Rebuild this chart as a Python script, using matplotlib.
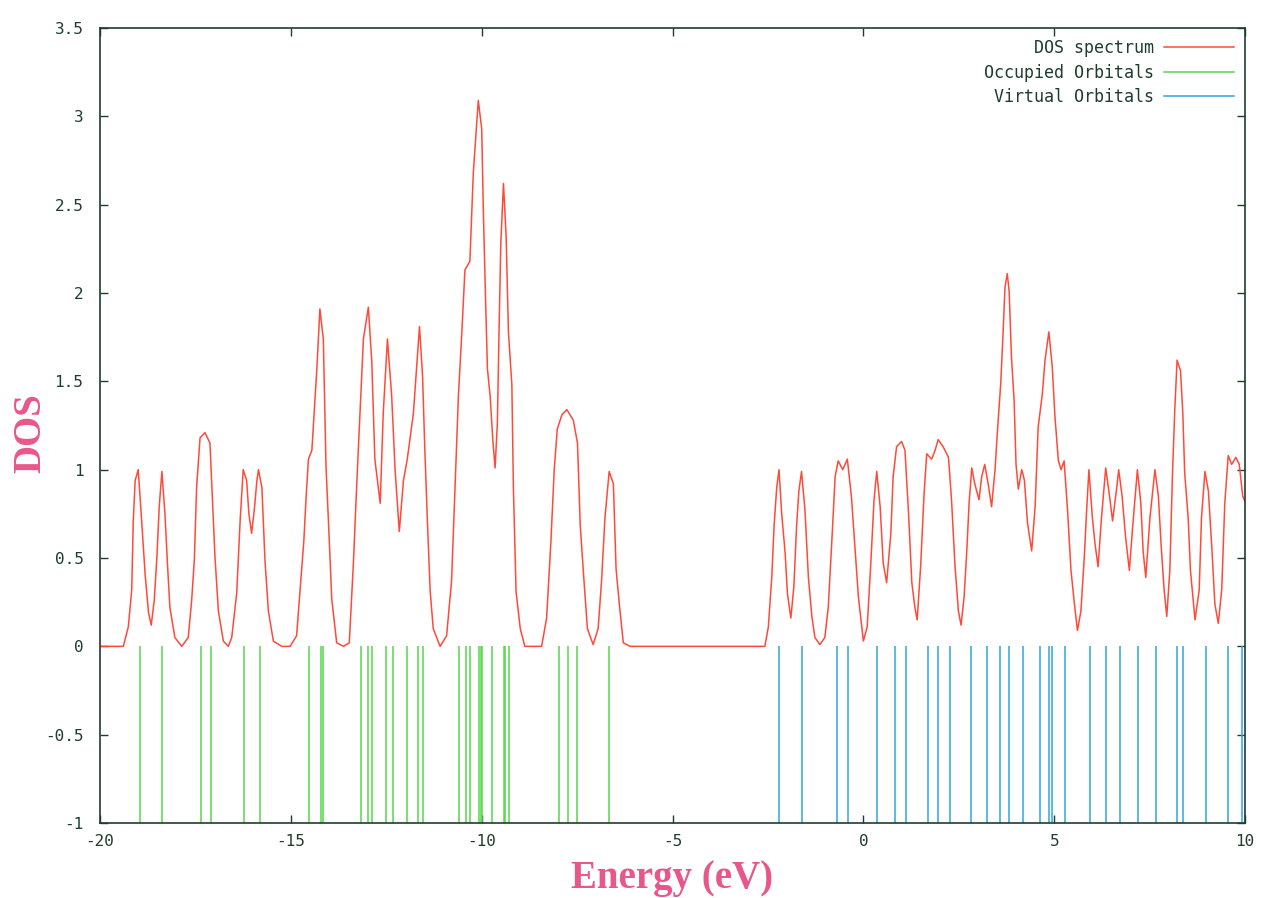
import matplotlib
matplotlib.use("Agg")
import matplotlib.pyplot as plt
from matplotlib.lines import Line2D

# DOS curve (energy in eV, DOS)
dos_energy = [
    -20.00, -19.39, -19.26, -19.17, -19.13, -19.08, -19.00, -18.91, -18.82, -18.73,
    -18.66, -18.58, -18.51, -18.45, -18.38, -18.30, -18.23, -18.17, -18.04, -17.86,
    -17.69, -17.60, -17.53, -17.47, -17.38, -17.25, -17.12, -17.07, -16.99, -16.90,
    -16.77, -16.64, -16.55, -16.42, -16.33, -16.25, -16.16, -16.10, -16.03, -15.96,
    -15.89, -15.85, -15.76, -15.68, -15.59, -15.46, -15.24, -15.02, -14.85, -14.72,
    -14.66, -14.60, -14.54, -14.45, -14.39, -14.32, -14.24, -14.15, -14.08, -13.99,
    -13.93, -13.80, -13.62, -13.47, -13.36, -13.27, -13.19, -13.10, -12.97, -12.88,
    -12.80, -12.66, -12.58, -12.47, -12.36, -12.27, -12.16, -12.05, -11.95, -11.79,
    -11.63, -11.55, -11.49, -11.42, -11.35, -11.27, -11.09, -10.92, -10.79, -10.70,
    -10.61, -10.52, -10.44, -10.31, -10.22, -10.09, -10.00, -9.96, -9.90, -9.85,
    -9.78, -9.71, -9.65, -9.59, -9.55, -9.50, -9.43, -9.36, -9.30, -9.21,
    -9.17, -9.10, -8.99, -8.87, -8.43, -8.30, -8.19, -8.10, -8.02, -7.90,
    -7.77, -7.60, -7.49, -7.42, -7.32, -7.23, -7.08, -6.95, -6.86, -6.77,
    -6.66, -6.55, -6.48, -6.39, -6.29, -6.11, -2.58, -2.49, -2.40, -2.34,
    -2.27, -2.21, -2.14, -2.05, -1.99, -1.90, -1.82, -1.75, -1.69, -1.62,
    -1.53, -1.44, -1.35, -1.27, -1.14, -1.01, -0.92, -0.83, -0.74, -0.66,
    -0.54, -0.42, -0.31, -0.22, -0.13, 0.00, 0.10, 0.19, 0.28, 0.35,
    0.44, 0.52, 0.61, 0.72, 0.78, 0.87, 1.00, 1.09, 1.18, 1.27,
    1.35, 1.41, 1.50, 1.59, 1.66, 1.79, 1.88, 1.96, 2.09, 2.23,
    2.31, 2.40, 2.49, 2.56, 2.64, 2.71, 2.77, 2.84, 2.92, 3.03,
    3.10, 3.18, 3.27, 3.36, 3.45, 3.52, 3.60, 3.66, 3.71, 3.77,
    3.82, 3.88, 3.95, 4.00, 4.06, 4.15, 4.22, 4.30, 4.41, 4.50,
    4.58, 4.69, 4.76, 4.86, 4.95, 5.02, 5.11, 5.18, 5.26, 5.35,
    5.44, 5.53, 5.61, 5.70, 5.79, 5.85, 5.91, 6.00, 6.07, 6.15,
    6.24, 6.35, 6.45, 6.53, 6.64, 6.69, 6.78, 6.87, 6.97, 7.05,
    7.18, 7.27, 7.33, 7.40, 7.51, 7.64, 7.73, 7.80, 7.88, 7.95,
    8.03, 8.10, 8.16, 8.22, 8.31, 8.37, 8.42, 8.51, 8.57, 8.69,
    8.80, 8.86, 8.95, 9.04, 9.13, 9.21, 9.30, 9.39, 9.47, 9.56,
    9.65, 9.76, 9.85, 9.94, 10.00,
]
dos_value = [
    0.00, 0.00, 0.11, 0.32, 0.71, 0.94, 1.00, 0.71, 0.41, 0.19,
    0.12, 0.26, 0.51, 0.79, 0.99, 0.75, 0.45, 0.22, 0.05, 0.00,
    0.05, 0.26, 0.49, 0.90, 1.18, 1.21, 1.15, 0.90, 0.51, 0.20,
    0.03, 0.00, 0.05, 0.30, 0.71, 1.00, 0.94, 0.75, 0.64, 0.77,
    0.94, 1.00, 0.90, 0.49, 0.20, 0.03, 0.00, 0.00, 0.06, 0.43,
    0.60, 0.85, 1.06, 1.11, 1.32, 1.57, 1.91, 1.74, 1.02, 0.58,
    0.27, 0.02, 0.00, 0.02, 0.48, 0.94, 1.32, 1.74, 1.92, 1.61,
    1.06, 0.81, 1.32, 1.74, 1.42, 1.00, 0.65, 0.94, 1.06, 1.32,
    1.81, 1.53, 1.11, 0.69, 0.31, 0.10, 0.00, 0.06, 0.37, 0.90,
    1.42, 1.78, 2.13, 2.18, 2.68, 3.09, 2.93, 2.49, 1.97, 1.57,
    1.42, 1.17, 1.01, 1.26, 1.74, 2.28, 2.62, 2.32, 1.78, 1.48,
    0.90, 0.31, 0.10, 0.00, 0.00, 0.16, 0.58, 1.00, 1.23, 1.31,
    1.34, 1.28, 1.15, 0.69, 0.37, 0.10, 0.01, 0.10, 0.37, 0.73,
    0.99, 0.92, 0.44, 0.23, 0.02, 0.00, 0.00, 0.11, 0.39, 0.68,
    0.90, 1.00, 0.75, 0.53, 0.30, 0.16, 0.34, 0.68, 0.88, 0.99,
    0.77, 0.39, 0.17, 0.05, 0.01, 0.05, 0.22, 0.58, 0.96, 1.05,
    1.00, 1.06, 0.84, 0.56, 0.28, 0.03, 0.11, 0.45, 0.83, 0.99,
    0.79, 0.47, 0.36, 0.64, 0.96, 1.13, 1.16, 1.11, 0.77, 0.36,
    0.22, 0.15, 0.45, 0.86, 1.09, 1.06, 1.11, 1.17, 1.13, 1.07,
    0.83, 0.46, 0.20, 0.12, 0.28, 0.54, 0.81, 1.01, 0.92, 0.83,
    0.96, 1.03, 0.92, 0.79, 1.00, 1.24, 1.49, 1.77, 2.03, 2.11,
    2.01, 1.64, 1.39, 1.03, 0.89, 1.00, 0.94, 0.70, 0.54, 0.79,
    1.24, 1.43, 1.62, 1.78, 1.58, 1.30, 1.05, 1.00, 1.05, 0.77,
    0.43, 0.24, 0.09, 0.20, 0.51, 0.77, 1.00, 0.73, 0.58, 0.45,
    0.73, 1.01, 0.85, 0.71, 0.90, 1.00, 0.85, 0.62, 0.43, 0.66,
    1.00, 0.81, 0.54, 0.39, 0.73, 1.00, 0.85, 0.58, 0.32, 0.17,
    0.43, 0.98, 1.34, 1.62, 1.56, 1.32, 0.98, 0.73, 0.43, 0.15,
    0.32, 0.73, 0.99, 0.88, 0.56, 0.24, 0.13, 0.32, 0.81, 1.08,
    1.03, 1.07, 1.03, 0.85, 0.82,
]

# orbital energies (eV)
occupied = [
    -18.95, -18.38, -17.35, -17.09, -16.22, -15.82, -14.52, -14.20, -14.15,
    -13.17, -12.97, -12.87, -12.51, -12.33, -11.95, -11.68, -11.53, -10.59,
    -10.41, -10.31, -10.08, -10.03, -9.99, -9.72, -9.42, -9.38, -9.28,
    -7.98, -7.73, -7.51, -6.66,
]
virtual = [
    -2.20, -1.62, -0.68, -0.40, 0.36, 0.83, 1.13, 1.70, 1.96, 2.27, 2.81,
    3.23, 3.58, 3.81, 4.19, 4.62, 4.87, 4.95, 5.28, 5.95, 6.36, 6.72, 7.20,
    7.67, 8.23, 8.38, 8.97, 9.56, 9.91,
]

xticks = [-20, -15, -10, -5, 0, 5, 10]
yticks = [-1, -0.5, 0, 0.5, 1, 1.5, 2, 2.5, 3, 3.5]

red = "#ff4a3a"
green = "#55d84a"
blue = "#2fa6dc"
frame = "#1f3d2f"
label_col = "#e8578a"
mono = "DejaVu Sans Mono"

fig = plt.figure(figsize=(12.65, 8.98), dpi=100)
ax = fig.add_axes([0.0791, 0.0835, 0.9051, 0.8853])

ax.plot(dos_energy, dos_value, color=red, lw=1.1)
ax.vlines(occupied, -1, 0, color=green, lw=1.1)
ax.vlines(virtual, -1, 0, color=blue, lw=1.1)

ax.set_xlim(-20, 10)
ax.set_ylim(-1, 3.5)
ax.set_xticks(xticks)
ax.set_yticks(yticks)
ax.set_xticklabels([str(t) for t in xticks], fontfamily=mono, fontsize=11.5, color=frame)
ax.set_yticklabels([("%g" % t) for t in yticks], fontfamily=mono, fontsize=11.5, color=frame)
ax.tick_params(direction="in", length=6, width=1, color=frame,
               top=True, right=True)
ax.tick_params(axis="y", pad=12)
ax.tick_params(axis="x", pad=8)
for s in ax.spines.values():
    s.set_color(frame)
    s.set_linewidth(1.2)

ax.set_xlabel("Energy (eV)", fontfamily="Liberation Serif", fontweight="bold",
              fontsize=28, color=label_col, labelpad=8)
ax.set_ylabel("DOS", fontfamily="Liberation Serif", fontweight="bold",
              fontsize=28, color=label_col)
ax.yaxis.set_label_coords(-0.044, 0.49)

handles = [
    Line2D([], [], color=red, lw=1.1),
    Line2D([], [], color=green, lw=1.1),
    Line2D([], [], color=blue, lw=1.1),
]
ax.legend(handles, ["DOS spectrum", "Occupied Orbitals", "Virtual Orbitals"],
          loc="upper right", frameon=False, markerfirst=False,
          prop={"family": mono, "size": 12}, labelcolor=frame,
          handlelength=4.2, handletextpad=0.6, labelspacing=0.4,
          borderaxespad=0.25)

fig.savefig("out.png", dpi=100)
